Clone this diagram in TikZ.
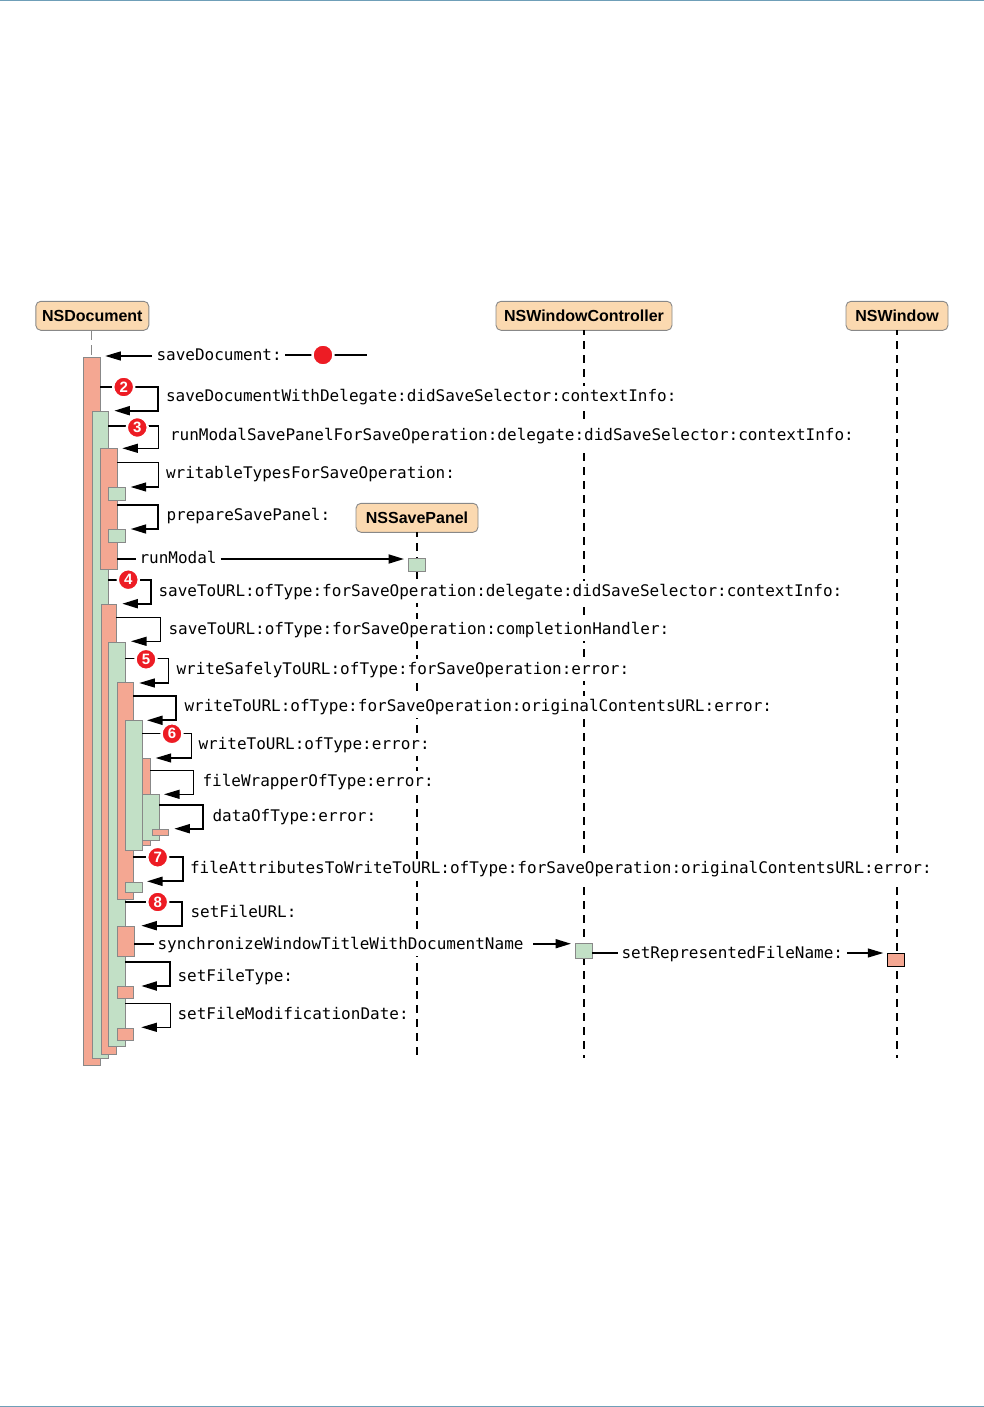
\documentclass[tikz,border=0pt]{standalone}
\usepackage{fontspec}
\setmainfont{Liberation Sans}
\setmonofont{DejaVu Sans Mono}
\usetikzlibrary{arrows.meta}
\definecolor{salmon}{HTML}{F4A792}
\definecolor{mint}{HTML}{C2E0C6}
\definecolor{peach}{HTML}{FBD9B0}
\definecolor{edgegrey}{HTML}{888888}
\definecolor{badgered}{HTML}{ED1C24}
\definecolor{rulecol}{HTML}{6F9FB8}
\tikzset{
  head/.style={draw=edgegrey,fill=peach,rounded corners=5pt,line width=0.9pt,inner sep=0pt,outer sep=0pt,
    font=\fontsize{16}{18}\selectfont\bfseries,text=black,anchor=center},
  act/.style={draw=edgegrey,line width=1pt,inner sep=0pt,outer sep=0pt,anchor=north west},
  red box/.style={act,fill=salmon},
  green box/.style={act,fill=mint},
  msg/.style={font=\fontsize{16}{18}\selectfont\ttfamily,anchor=base west,inner ysep=0pt,inner xsep=4pt,outer sep=0pt,xshift=-4.5pt,fill=white,text height=15pt,text depth=7pt},
  badge/.style={circle,fill=badgered,draw=white,line width=2.4pt,minimum size=21pt,inner sep=0pt,text=white,font=\fontsize{15}{15}\selectfont\bfseries},
  life/.style={line width=2pt,dash pattern=on 8.3pt off 5.7pt,dash phase=3.3pt},
  thinw/.style={line width=1.1pt},
  thickw/.style={line width=1.8pt},
  tip/.style={-{Triangle[length=15.5pt,width=9pt]}},
}
\newcommand{\selfloop}[7]{%
  \coordinate (#1r) at (#4,#3);
  \coordinate (#1b) at (#4,#5);
  \coordinate (#1t) at (#6,#5);
  \draw[#7,tip] (#2.east |- #1r) -- (#1r) -- (#1b) -- (#1t);
}
\begin{document}
\begin{tikzpicture}[x=1pt,y=-1pt]
\useasboundingbox (0,0) rectangle (984,1407);
% page rules
\coordinate (tl) at (0,0.5); \coordinate (tr) at (984,0.5);
\coordinate (bl) at (0,1406.5); \coordinate (br) at (984,1406.5);
\draw[rulecol,line width=1pt] (tl) -- (tr);
\draw[rulecol,line width=1pt] (bl) -- (br);
% lifeline ends
\coordinate (docend) at (91.5,358);
\coordinate (spend) at (417,1055);
\coordinate (wcend) at (584,1058);
\coordinate (winend) at (897,1058);
% headers
\node[head,minimum width=113pt,minimum height=29pt] (doc) at (92.3,315.8) {NSDocument};
\node[head,minimum width=176pt,minimum height=29pt] (wc) at (584,315.8) {NSWindowController};
\node[head,minimum width=102pt,minimum height=29pt] (win) at (897,315.8) {NSWindow};
\draw[edgegrey,line width=1pt,dash pattern=on 10pt off 5pt] (doc.south -| docend) -- (docend);
\draw[life] (wc.south) -- (wcend);
\draw[life] (win.south) -- (winend);
\node[head,minimum width=122pt,minimum height=29pt] (sp) at (417,517.8) {NSSavePanel};
\draw[life] (sp.south) -- (spend);
% labels (white ground breaks the lifelines)
\node[msg] (l1) at (157,360) {saveDocument:};
\node[msg] (l2) at (166.5,401) {saveDocumentWithDelegate:didSaveSelector:contextInfo:};
\node[msg] (l3) at (170.5,440) {runModalSavePanelForSaveOperation:delegate:didSaveSelector:contextInfo:};
\node[msg] (l4) at (166.5,478.3) {writableTypesForSaveOperation:};
\node[msg] (l5) at (167,520) {prepareSavePanel:};
\node[msg] (l6) at (140,563.3) {runModal};
\node[msg] (l7) at (159,596.3) {saveToURL:ofType:forSaveOperation:delegate:didSaveSelector:contextInfo:};
\node[msg] (l8) at (169,634) {saveToURL:ofType:forSaveOperation:completionHandler:};
\node[msg] (l9) at (177,674) {writeSafelyToURL:ofType:forSaveOperation:error:};
\node[msg] (l10) at (185,711) {writeToURL:ofType:forSaveOperation:originalContentsURL:error:};
\node[msg] (l11) at (199,749) {writeToURL:ofType:error:};
\node[msg] (l12) at (203,786) {fileWrapperOfType:error:};
\node[msg] (l13) at (213,821) {dataOfType:error:};
\node[msg] (l14) at (190.5,873.5) {fileAttributesToWriteToURL:ofType:forSaveOperation:originalContentsURL:error:};
\node[msg] (l15) at (191,917) {setFileURL:};
\node[msg] (l16) at (158,949.3) {synchronizeWindowTitleWithDocumentName};
\node[msg] (l17) at (178,981.5) {setFileType:};
\node[msg] (l18) at (178,1019) {setFileModificationDate:};
\node[msg] (l19) at (622,958.3) {setRepresentedFileName:};
% activation boxes
\node[red box,minimum width=16.3pt,minimum height=708pt] (a1) at (83.8,357.8) {};
\node[green box,minimum width=15.3pt,minimum height=647pt] (a2) at (92.9,411.8) {};
\node[red box,minimum width=16.3pt,minimum height=121pt] (a3) at (100.9,448.8) {};
\node[green box,minimum width=16.3pt,minimum height=12.4pt] (s1) at (108.9,487.8) {};
\node[green box,minimum width=16.3pt,minimum height=12.4pt] (s2) at (108.9,529.8) {};
\node[red box,minimum width=15pt,minimum height=449.5pt] (a4) at (101.2,604.8) {};
\node[green box,minimum width=16.3pt,minimum height=403.5pt] (a5) at (108.9,642.8) {};
\node[red box,minimum width=15.3pt,minimum height=216.5pt] (a6) at (117.9,682.8) {};
\node[red box,minimum width=16pt,minimum height=87pt] (a8) at (134,758.8) {};
\node[green box,minimum width=16.3pt,minimum height=129.5pt] (a7) at (125.9,720.8) {};
\node[green box,minimum width=16.3pt,minimum height=45.5pt] (a9) at (142.9,794.8) {};
\node[red box,minimum width=15.3pt,minimum height=6pt] (a10) at (152.9,829.8) {};
\node[green box,minimum width=16.3pt,minimum height=10pt] (s3) at (125.9,882.8) {};
\node[red box,minimum width=16.3pt,minimum height=30pt] (a11) at (117.9,926.8) {};
\node[red box,minimum width=15.3pt,minimum height=12pt] (s4) at (117.9,986.8) {};
\node[red box,minimum width=15.3pt,minimum height=12pt] (s5) at (117.9,1028.8) {};
\node[green box,minimum width=16.3pt,minimum height=12.4pt] (sb) at (408.9,558.8) {};
\node[green box,minimum width=16.3pt,minimum height=14.4pt] (wb) at (575.9,943.8) {};
\node[red box,draw=black,minimum width=16.3pt,minimum height=12.4pt] (nb) at (887.9,953.8) {};
% start of the sequence
\coordinate (startr) at (367,355);
\coordinate (startl) at (285,355);
\coordinate (arrtail) at (152,356);
\coordinate (arr1) at (105.3,356);
\draw[thinw] (startl) -- (startr);
\node[badge] (start) at (323,355) {};
\draw[thinw,tip] (arrtail) -- (arr1);
% self calls
\selfloop{p2}{a1}{387}{158.3}{410.7}{114.3}{thickw}
\selfloop{p3}{a2}{426}{158.3}{448.3}{122.3}{thinw}
\selfloop{p4}{a3}{462.3}{158.3}{487}{130.7}{thinw}
\selfloop{p5}{a3}{504.7}{158.3}{529}{130.7}{thickw}
\selfloop{p7}{a2}{580}{150.7}{603.7}{122.3}{thickw}
\selfloop{p8}{a4}{617.3}{160.7}{641.3}{131}{thinw}
\selfloop{p9}{a5}{658.3}{168.7}{683}{139.3}{thinw}
\selfloop{p10}{a6}{695.7}{176.3}{720.3}{147}{thickw}
\selfloop{p11}{a7}{733.3}{191.3}{758}{155.7}{thinw}
\selfloop{p12}{a8}{770.7}{193.3}{794.3}{164}{thinw}
\selfloop{p13}{a9}{805}{203.3}{828.7}{174.3}{thickw}
\selfloop{p14}{a6}{856.7}{183.3}{881.3}{147}{thickw}
\selfloop{p15}{a5}{901.7}{182}{925.7}{141.3}{thickw}
\selfloop{p17}{a5}{962}{170.3}{986}{141.3}{thickw}
\selfloop{p18}{a5}{1003.3}{170.3}{1027.3}{141.3}{thinw}
% calls to other objects
\coordinate (rmy) at (125,558.7);
\draw[thickw] (a3.east |- rmy) -- (rmy -| l6.west);
\coordinate (rmtip) at (404,559);
\draw[thickw,tip] (l6.east |- rmtip) -- (rmtip);
\coordinate (syy) at (140,943.7);
\draw[thickw] (a11.east |- syy) -- (syy -| l16.west);
\coordinate (sytip) at (571,943.7);
\coordinate (sytail) at (533,943.7);
\draw[thickw,tip] (sytail) -- (sytip);
\coordinate (sry) at (600,953);
\draw[thinw] (wb.east |- sry) -- (sry -| l19.west);
\coordinate (srtip) at (883.3,953);
\coordinate (srtail) at (847,953);
\draw[thinw,tip] (srtail) -- (srtip);
% badges
\node[badge] (b2) at (123.7,387) {2};
\node[badge] (b3) at (137.3,427.5) {3};
\node[badge] (b4) at (128.3,579.7) {4};
\node[badge] (b5) at (146,659.3) {5};
\node[badge] (b6) at (172,733.8) {6};
\node[badge] (b7) at (157.7,857.3) {7};
\node[badge] (b8) at (157.7,902) {8};
\end{tikzpicture}
\end{document}
